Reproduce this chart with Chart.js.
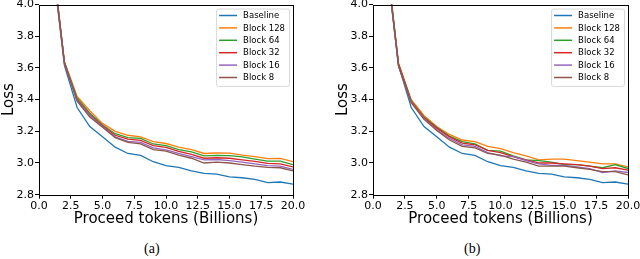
<!DOCTYPE html>
<html>
<head>
<meta charset="utf-8">
<script src="https://cdn.jsdelivr.net/npm/chart.js@4/dist/chart.umd.min.js"></script>
<style>
  html, body { margin: 0; padding: 0; background: #fff; }
  body { width: 640px; height: 259px; position: relative; overflow: hidden; }
  .panel { position: absolute; top: 0; width: 306px; height: 232px; }
  .caption { position: absolute; top: 241px; font: 14px "Liberation Serif", "DejaVu Serif", serif; color: #000; }
</style>
</head>
<body>
<div class="panel" style="left:0"><canvas id="chartA"></canvas></div>
<div class="panel" style="left:334px"><canvas id="chartB"></canvas></div>
<div class="caption" style="left:144px">(a)</div>
<div class="caption" style="left:464px">(b)</div>
<script>
var tokens = [1, 2, 3, 4, 5, 6, 7, 8, 9, 10, 11, 12, 13, 14, 15, 16, 17, 18, 19, 20];
var xTicks = [0, 2.5, 5, 7.5, 10, 12.5, 15, 17.5, 20];
var yTicks = [2.8, 3.0, 3.2, 3.4, 3.6, 3.8, 4.0];
var seriesNames = ['Baseline', 'Block 128', 'Block 64', 'Block 32', 'Block 16', 'Block 8'];
var seriesColors = ['#1f77b4', '#ff7f0e', '#2ca02c', '#d62728', '#9467bd', '#8c564b'];

var baseline = [4.30, 3.616, 3.35, 3.23, 3.165, 3.10, 3.06, 3.048, 3.008, 2.983, 2.972, 2.95, 2.935, 2.93, 2.913, 2.907, 2.897, 2.876, 2.88, 2.867];

// panel (a)
var block128A = [4.33, 3.64, 3.42, 3.33, 3.25, 3.20, 3.175, 3.165, 3.135, 3.123, 3.10, 3.085, 3.06, 3.063, 3.062, 3.05, 3.04, 3.027, 3.029, 3.008];
var block64A = [4.33, 3.635, 3.41, 3.315, 3.24, 3.185, 3.16, 3.155, 3.12, 3.11, 3.085, 3.07, 3.045, 3.048, 3.047, 3.038, 3.025, 3.012, 3.012, 2.99];
var block32A = [4.33, 3.635, 3.40, 3.305, 3.235, 3.175, 3.15, 3.143, 3.11, 3.098, 3.073, 3.055, 3.03, 3.033, 3.03, 3.02, 3.01, 2.997, 2.995, 2.975];
var block16A = [4.32, 3.63, 3.395, 3.30, 3.23, 3.165, 3.137, 3.13, 3.095, 3.083, 3.06, 3.04, 3.02, 3.022, 3.015, 3.005, 2.995, 2.983, 2.98, 2.96];
var block8A = [4.32, 3.63, 3.39, 3.29, 3.225, 3.16, 3.13, 3.12, 3.085, 3.075, 3.05, 3.03, 3.0, 3.005, 3.0, 2.99, 2.98, 2.972, 2.97, 2.95];

// panel (b)
var block128B = [4.33, 3.63, 3.40, 3.30, 3.23, 3.18, 3.145, 3.135, 3.105, 3.09, 3.065, 3.045, 3.02, 3.025, 3.025, 3.015, 3.005, 2.995, 2.995, 2.975];
var block64B = [4.33, 3.625, 3.39, 3.29, 3.225, 3.17, 3.135, 3.12, 3.08, 3.075, 3.045, 3.02, 3.015, 3.005, 2.99, 2.99, 2.98, 2.97, 2.99, 2.965];
var block32B = [4.33, 3.625, 3.39, 3.285, 3.22, 3.165, 3.125, 3.115, 3.08, 3.065, 3.04, 3.02, 3.0, 3.0, 2.995, 2.99, 2.98, 2.965, 2.97, 2.955];
var block16B = [4.32, 3.61, 3.385, 3.28, 3.21, 3.155, 3.115, 3.105, 3.065, 3.045, 3.04, 3.015, 2.995, 2.985, 2.985, 2.975, 2.965, 2.94, 2.95, 2.94];
var block8B = [4.32, 3.615, 3.38, 3.275, 3.205, 3.145, 3.105, 3.095, 3.06, 3.05, 3.025, 3.005, 2.98, 2.98, 2.98, 2.97, 2.96, 2.945, 2.945, 2.925];

Chart.defaults.font.family = '"DejaVu Sans", sans-serif';
Chart.defaults.color = '#000';
Chart.defaults.animation = false;

// frame around the plot + legend box in the upper right
var framePlugin = {
  id: 'frameLegend',
  afterDatasetsDraw: function (chart) {
    var c = chart.ctx, a = chart.chartArea;
    c.save();
    c.strokeStyle = '#000';
    c.lineWidth = 1;
    c.strokeRect(Math.round(a.left) + 0.5, Math.round(a.top) + 0.5,
      Math.round(a.right - a.left), Math.round(a.bottom - a.top));

    c.font = '8.5px "DejaVu Sans", sans-serif';
    var maxW = 0;
    chart.data.datasets.forEach(function (ds) { maxW = Math.max(maxW, c.measureText(ds.label).width); });
    var w = 27 + maxW + 4, rowH = 12.4, h = rowH * chart.data.datasets.length + 3;
    var x = a.right - 4 - w, y = a.top + 4;
    c.fillStyle = 'rgba(255,255,255,0.85)';
    c.strokeStyle = '#d8d8d8';
    c.beginPath();
    c.roundRect(x + 0.5, y + 0.5, w, h, 2);
    c.fill();
    c.stroke();
    c.textBaseline = 'middle';
    chart.data.datasets.forEach(function (ds, i) {
      var ry = y + 7 + i * rowH;
      c.strokeStyle = ds.borderColor;
      c.lineWidth = 1.5;
      c.beginPath();
      c.moveTo(x + 3, ry);
      c.lineTo(x + 21, ry);
      c.stroke();
      c.fillStyle = '#000';
      c.fillText(ds.label, x + 27, ry + 0.5);
    });
    c.restore();
  }
};

function makeChart(id, blocks, padRight) {
  var all = [baseline].concat(blocks);
  var datasets = all.map(function (vals, i) {
    return {
      label: seriesNames[i],
      data: tokens.map(function (t, k) { return { x: t, y: vals[k] }; }),
      borderColor: seriesColors[i],
      borderWidth: 1.3,
      pointRadius: 0,
      tension: 0,
      fill: false,
      order: -i
    };
  });
  return new Chart(document.getElementById(id), {
    type: 'line',
    data: { datasets: datasets },
    options: {
      responsive: true,
      maintainAspectRatio: false,
      layout: { padding: { top: 4.5, right: padRight, left: 0, bottom: 0 } },
      plugins: { legend: { display: false }, tooltip: { enabled: false } },
      scales: {
        x: {
          type: 'linear', min: 0, max: 20,
          afterBuildTicks: function (s) { s.ticks = xTicks.map(function (v) { return { value: v }; }); },
          afterFit: function (s) { s.height = 232 - 194.7; s.paddingLeft = 0; s.paddingRight = 0; },
          ticks: { font: { size: 11 }, padding: 1, maxRotation: 0, autoSkip: false,
            callback: function (v) { return v.toFixed(1); } },
          grid: { drawOnChartArea: false, drawTicks: true, tickLength: 4, color: '#000' },
          border: { display: false },
          title: { display: true, text: 'Proceed tokens (Billions)', font: { size: 15 }, padding: { top: 2, bottom: 4 } }
        },
        y: {
          min: 2.8, max: 4.0,
          afterBuildTicks: function (s) { s.ticks = yTicks.map(function (v) { return { value: v }; }); },
          afterFit: function (s) { s.width = 39; s.paddingTop = 0; s.paddingBottom = 0; },
          ticks: { font: { size: 11 }, padding: 1, autoSkip: false,
            callback: function (v) { return v.toFixed(1); } },
          grid: { drawOnChartArea: false, drawTicks: true, tickLength: 4, color: '#000' },
          border: { display: false },
          title: { display: true, text: 'Loss', font: { size: 15 }, padding: 0 }
        }
      }
    },
    plugins: [framePlugin]
  });
}

makeChart('chartA', [block128A, block64A, block32A, block16A, block8A], 13);
makeChart('chartB', [block128B, block64B, block32B, block16B, block8B], 12);
</script>
</body>
</html>
